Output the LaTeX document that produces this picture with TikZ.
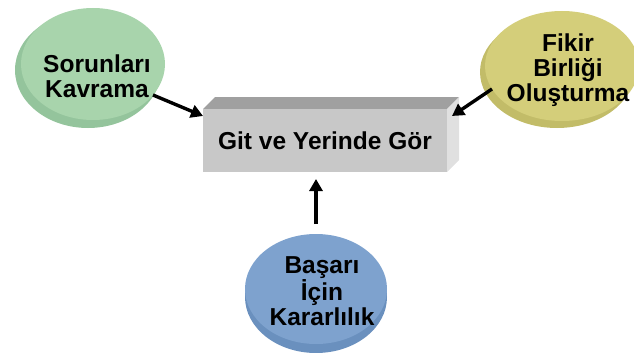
\documentclass[tikz,border=0pt]{standalone}
\usepackage{fontspec}
\setmainfont{Liberation Sans}
\usetikzlibrary{shapes.geometric,arrows.meta}
\definecolor{gface}{RGB}{168,212,172}
\definecolor{grim}{RGB}{148,196,156}
\definecolor{yface}{RGB}{212,206,122}
\definecolor{yrim}{RGB}{194,188,104}
\definecolor{bface}{RGB}{126,162,206}
\definecolor{brim}{RGB}{106,144,190}
\definecolor{boxfront}{RGB}{200,200,200}
\definecolor{boxtop}{RGB}{160,160,160}
\definecolor{boxside}{RGB}{224,224,224}
\tikzset{
  disc/.style={ellipse, inner sep=0pt, align=center},
  lbl/.style={align=center, font=\fontsize{24.5}{25}\selectfont\bfseries},
  conn/.style={line width=3.4pt, -{Triangle[length=12pt,width=13pt]}, black},
}
\begin{document}
\begin{tikzpicture}[x=1pt,y=-1pt]
\useasboundingbox (0,0) rectangle (634,353);
\begin{scope}
\clip (0,0) rectangle (634,353);
% green disc
\fill[grim] (88,70) ellipse [x radius=73, y radius=58];
\node[disc, fill=gface, minimum width=144pt, minimum height=112pt] (g) at (93,64) {};
\node[lbl] (gt) at (97,76) {Sorunları\\Kavrama};
% yellow disc
\fill[yrim] (557,72) ellipse [x radius=77, y radius=56];
\node[disc, fill=yface, minimum width=154pt, minimum height=110pt] (y) at (562,66) {};
\node[lbl] (yt) at (568,70) {Fikir\\Birliği\\Oluşturma};
% blue disc
\fill[brim] (316,297) ellipse [x radius=71, y radius=56];
\node[disc, fill=bface, minimum width=142pt, minimum height=110pt] (b) at (316,289) {};
\node[lbl] (bt) at (322,291) {Başarı\\İçin\\Kararlılık};
% box
\fill[boxtop] (203,109) -- (215,97) -- (459,97) -- (447,109) -- cycle;
\fill[boxside] (447,109) -- (459,97) -- (459,160) -- (447,172) -- cycle;
\node[fill=boxfront, minimum width=244pt, minimum height=63pt, inner sep=0pt, lbl] (box) at (325,140.5) {Git ve Yerinde Gör};
% connectors
\coordinate (ga) at (153,95);
\coordinate (ya) at (492,89);
\coordinate (ba) at (316,224);
\coordinate (gtip) at (203,116);
\coordinate (ytip) at (452,116);
\coordinate (btip) at (316,179);
\draw[conn] (ga) -- (gtip);
\draw[conn] (ya) -- (ytip);
\draw[conn] (ba) -- (btip);
\end{scope}
\end{tikzpicture}
\end{document}
